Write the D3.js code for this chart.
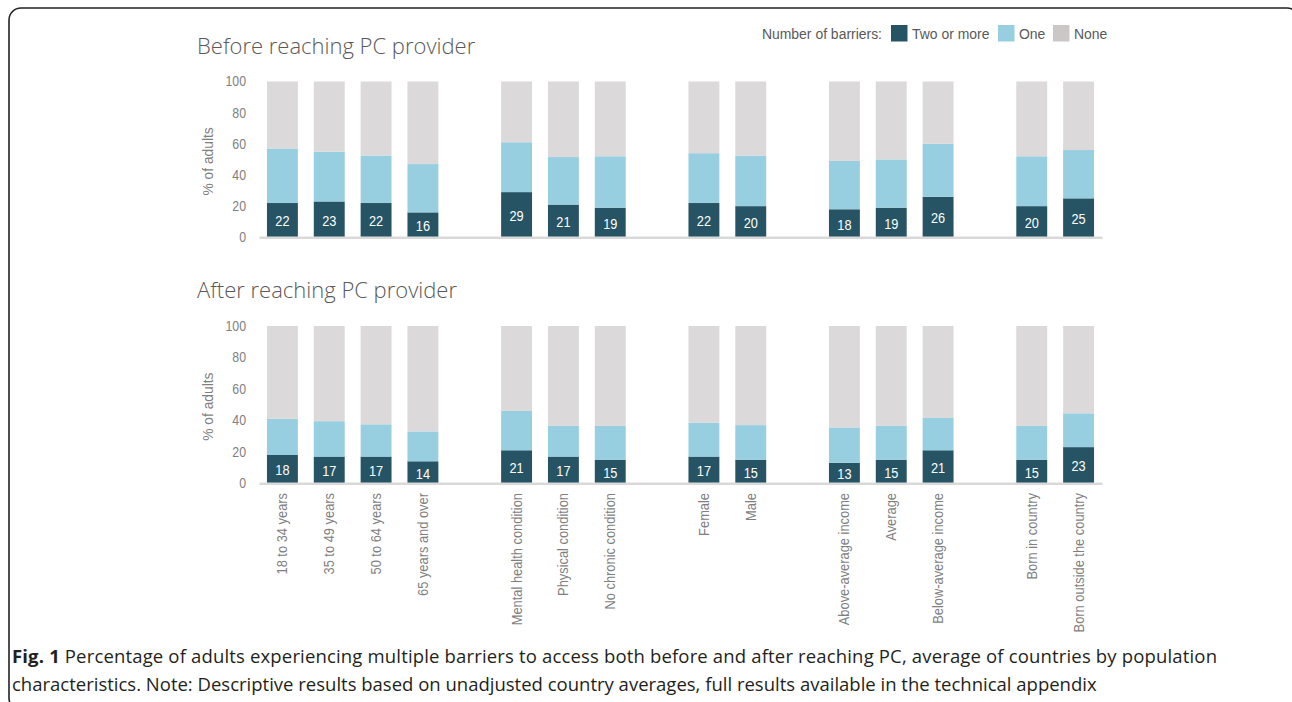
<!DOCTYPE html>
<html><head><meta charset="utf-8">
<script src="https://cdn.jsdelivr.net/npm/d3@7"></script>
<style>body{margin:0;background:#fff}</style>
</head><body><svg id="c" width="1292" height="702"></svg>
<script>
// ---- data ----
const categories = ["18 to 34 years","35 to 49 years","50 to 64 years","65 years and over",
  "Mental health condition","Physical condition","No chronic condition",
  "Female","Male",
  "Above-average income","Average","Below-average income",
  "Born in country","Born outside the country"];
const groupSizes = [4,3,2,3,2];
const beforeTwo = [22,23,22,16,29,21,19,22,20,18,19,26,20,25];
const beforeOne = [35,32,30.5,31,32,30.5,33,32,32.5,31,31,34,32,31];
const afterTwo  = [18,17,17,14,21,17,15,17,15,13,15,21,15,23];
const afterOne  = [23,22.5,20.5,19,25,19.5,21.5,21.5,22,22.5,21.5,20.5,21.5,21.5];
const seriesNames = ["Two or more","One","None"];
const panelTitles = ["Before reaching PC provider","After reaching PC provider"];
const yTicks = [0,20,40,60,80,100];
const yLabel = "% of adults";
const legendTitle = "Number of barriers:";
const captionBold = "Fig. 1";
const captionLine1 = " Percentage of adults experiencing multiple barriers to access both before and after reaching PC, average of countries by population";
const captionLine2 = "characteristics. Note: Descriptive results based on unadjusted country averages, full results available in the technical appendix";

// ---- styles ----
const colors = ["#265465","#97cfe0","#dbd9da"];
const legendColors = ["#265465","#97cfe0","#cbc7c7"];
const narrow = "'Liberation Sans',Arial,sans-serif";
const light = "'Open Sans',sans-serif";
const SX = 0.88; // horizontal condensing of the narrow face

const svg = d3.select("#c");
svg.append("rect").attr("x",9).attr("y",8).attr("width",1290).attr("height",702)
  .attr("rx",12).attr("fill","#fff").attr("stroke","#222").attr("stroke-width",1.6);

// slots with gaps between groups
const slots = [];
let k = 0;
groupSizes.forEach((g,gi)=>{
  for(let i=0;i<g;i++) slots.push(categories[k++]);
  if(gi<groupSizes.length-1) slots.push("__gap"+gi);
});
const x = d3.scaleBand().domain(slots).range([259,1102]).paddingInner(0.34).paddingOuter(0.17);

const panels = [
  {title:panelTitles[0], two:beforeTwo, one:beforeOne, y0:237.3, y1:81.5, titleY:53.5},
  {title:panelTitles[1], two:afterTwo, one:afterOne, y0:483.3, y1:326, titleY:297.5}
];

const stack = d3.stack().keys(seriesNames);

panels.forEach((p,pi)=>{
  const y = d3.scaleLinear().domain([0,100]).range([p.y0,p.y1]);
  const g = svg.append("g");
  g.append("text").attr("x",197).attr("y",p.titleY).text(p.title)
    .attr("font-family",light).attr("font-weight",300).attr("font-size",22).attr("fill","#595959");

  const rows = categories.map((c,i)=>({cat:c, "Two or more":p.two[i], "One":p.one[i], "None":100-p.two[i]-p.one[i]}));
  const series = stack(rows);
  g.selectAll("g.s").data(series).join("g").attr("fill",(d,i)=>colors[i])
    .selectAll("rect").data(d=>d).join("rect")
    .attr("x",d=>x(d.data.cat)).attr("width",x.bandwidth())
    .attr("y",d=>y(d[1])).attr("height",d=>y(d[0])-y(d[1]));

  // value labels
  g.selectAll("text.v").data(series[0]).join("text").attr("class","v")
    .attr("transform",d=>`translate(${x(d.data.cat)+x.bandwidth()/2},${(y(d[0])+y(d[1]))/2+1}) scale(${SX},1)`)
    .attr("dy","0.36em")
    .attr("text-anchor","middle").attr("font-family",narrow).attr("font-size",14.5)
    .attr("fill","#fff").text(d=>d.data["Two or more"]);

  // y axis
  const ya = g.append("g").attr("transform","translate(259,0)")
    .call(d3.axisLeft(y).tickValues(yTicks).tickSize(0).tickPadding(13));
  ya.select(".domain").remove();
  ya.selectAll("text").attr("font-family",narrow).attr("font-size",14).attr("fill","#808080")
    .attr("x",-13/SX).attr("transform",`scale(${SX},1)`);

  // x baseline
  const xa = g.append("g").attr("transform",`translate(0,${p.y0})`)
    .call(d3.axisBottom(x).tickSize(0).tickFormat(""));
  xa.select(".domain").attr("stroke","#d9d9d9").attr("stroke-width",2.5);
  xa.selectAll(".tick").remove();

  g.append("text").attr("transform",`translate(213,${(p.y0+p.y1)/2+2}) rotate(-90) scale(0.92,1)`)
    .attr("text-anchor","middle").attr("font-family",narrow).attr("font-size",15)
    .attr("fill","#7f7f7f").text(yLabel);

  if(pi===1){
    g.selectAll("text.c").data(categories).join("text").attr("class","c")
      .attr("transform",d=>`translate(${x(d)+x.bandwidth()/2+5},493) rotate(-90) scale(0.9,1)`)
      .attr("text-anchor","end").attr("font-family",narrow).attr("font-size",14.3)
      .attr("fill","#7f7f7f").text(d=>d);
  }
});

// legend
const lg = svg.append("g").attr("font-family",narrow).attr("font-size",15.5).attr("fill","#595959");
lg.append("text").attr("transform",`translate(882,39) scale(0.9,1)`).attr("text-anchor","end").text(legendTitle);
const legendX = [891, 998, 1053];
seriesNames.forEach((s,i)=>{
  lg.append("rect").attr("x",legendX[i]).attr("y",25).attr("width",16.5).attr("height",16.5).attr("fill",legendColors[i]);
  lg.append("text").attr("transform",`translate(${legendX[i]+21},39) scale(0.9,1)`).text(s);
});

// caption
const cap = svg.append("g").attr("font-family",light).attr("fill","#231f20");
const t1 = cap.append("text").attr("x",12).attr("y",663);
t1.append("tspan").attr("font-weight",700).text(captionBold);
t1.append("tspan").text(captionLine1);
const t2 = cap.append("text").attr("x",12).attr("y",691).text(captionLine2);
t1.attr("font-size",18); t2.attr("font-size",18);
const w2 = t2.node().getComputedTextLength();
const fs = 18*1085/w2;
t1.attr("font-size",fs); t2.attr("font-size",fs);
t1.attr("textLength",1205).attr("lengthAdjust","spacing");
</script></body></html>
